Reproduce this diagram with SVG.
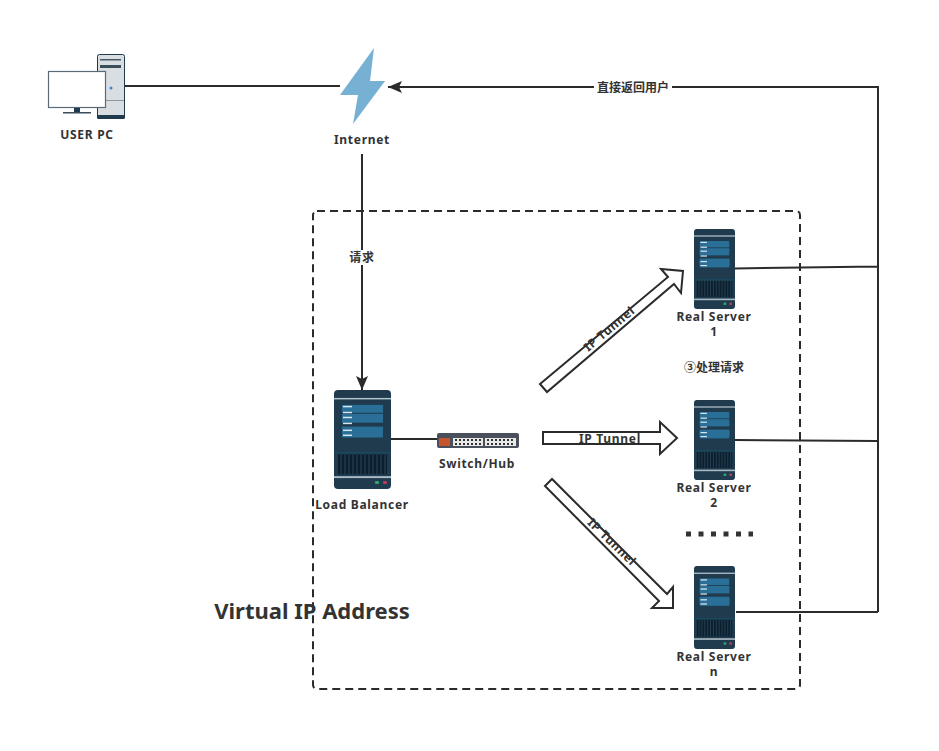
<svg xmlns="http://www.w3.org/2000/svg" xmlns:xlink="http://www.w3.org/1999/xlink" width="939" height="751" viewBox="0 0 939 751">
<style>
text{font-family:"Noto Sans","Noto Sans CJK SC",sans-serif;font-weight:700;fill:#333;text-anchor:middle;font-size:12px;letter-spacing:.7px}
.c{fill:none;stroke:#2b2b2b;stroke-width:2}
.t{fill:#fff;stroke:#2b2b2b;stroke-width:2}
</style>
<defs>
<marker id="a" markerUnits="userSpaceOnUse" markerWidth="16" markerHeight="14" refX="14" refY="7" orient="auto"><path d="M0 1 L14 7 L0 13 L3 7Z" fill="#2b2b2b"/></marker>
<symbol id="srv" viewBox="0 0 57 100" preserveAspectRatio="none">
<rect width="57" height="100" rx="4" fill="#1f3b4d"/>
<rect y="8" width="57" height="1.5" fill="#b6c6cf"/>
<g fill="#2a6f97"><rect x="8" y="15" width="41" height="8"/><rect x="8" y="24" width="41" height="8"/><rect x="8" y="26" width="41" height="0"/><rect x="8" y="26" width="0" height="0"/><rect x="8" y="26" width="41" height="0"/><rect x="8" y="26" width="41" height="7"/><rect x="8" y="37" width="41" height="8"/><rect x="8" y="38" width="41" height="7"/><rect x="8" y="46" width="41" height="0"/><rect x="8" y="39" width="41" height="0"/><rect x="8" y="39" width="41" height="0"/><rect x="8" y="39" width="41" height="0"/><rect x="8" y="39" width="41" height="0"/><rect x="8" y="39" width="41" height="0"/></g>
<g fill="#2a6f97"><rect x="8" y="39" width="41" height="8"/><rect x="8" y="49" width="41" height="0"/></g>
<g fill="#d9e6ee"><rect x="9" y="16" width="9" height="1.5"/><rect x="9" y="22" width="9" height="1.5"/><rect x="9" y="27" width="9" height="1.5"/><rect x="9" y="33" width="9" height="1.5"/></g>
<g fill="#2a6f97"><rect x="8" y="39" width="41" height="4"/><rect x="8" y="44" width="41" height="4"/></g>
<g fill="#d9e6ee"><rect x="9" y="40" width="9" height="1.5"/><rect x="9" y="45" width="9" height="1.5"/></g>
<rect y="63" width="57" height="1" fill="#17506b"/>
<rect x="4" y="65" width="49" height="20" fill="#0c1f2e"/>
<path d="M7 65v20M11 65v20M15 65v20M19 65v20M23 65v20M27 65v20M31 65v20M35 65v20M39 65v20M43 65v20M47 65v20M51 65v20" stroke="#2a4a5e" stroke-width="1"/>
<rect y="87" width="57" height="2" fill="#a9bac4"/>
<rect x="41" y="92" width="4" height="3" rx="1" fill="#2ca66f"/><rect x="49" y="92" width="4" height="3" rx="1" fill="#b83a5a"/>
</symbol>
</defs>
<g id="connectors">
<path class="c" d="M125 86H340"/>
<path class="c" d="M362 154V390" marker-end="url(#a)"/>
<path class="c" d="M735 268.500L878 266.500M735 440L878 441M736 612H878M878 612V87H388" marker-end="url(#a)"/>
<path class="c" d="M391 439H437"/>
<rect x="348" y="250" width="29" height="15" fill="#fff"/>
<text x="362" y="262">请求</text>
<rect x="594" y="80" width="78" height="15" fill="#fff"/>
<text x="633" y="92" style="letter-spacing:0">直接返回用户</text>
</g>
<rect id="vip" x="313" y="211" width="487" height="478" rx="4" fill="none" stroke="#2b2b2b" stroke-width="2" stroke-dasharray="8 5"/>
<text x="312" y="619" style="font-size:22px;letter-spacing:0">Virtual IP Address</text>
<g id="user-pc">
<rect x="97.500" y="54.500" width="27" height="64" rx="2" fill="#d9dee2" stroke="#1f3b4d"/>
<rect x="97" y="115" width="28" height="4" rx="1.500" fill="#1f3b4d"/>
<rect x="100" y="59" width="21" height="1.500" fill="#4a5a66"/><rect x="100" y="65" width="21" height="3" fill="#3c4d5a"/>
<rect x="98" y="100" width="26" height="1" fill="#8b98a2"/>
<circle cx="111" cy="88" r="1.500" fill="#3f7fe0"/>
<rect x="48.500" y="71.500" width="57" height="36" fill="#fff" stroke="#5a6a76" stroke-width="1.200"/>
<rect x="74" y="108" width="6" height="5" fill="#1f3b4d"/><rect x="63" y="112" width="28" height="1.500" fill="#3c4d5a"/>
<text x="87" y="139">USER PC</text>
</g>
<g id="internet">
<path d="M374 48L370 81H385L353 124L358 95H340Z" fill="#76b0d3"/>
<text x="362" y="144">Internet</text>
</g>
<g id="load-balancer"><use xlink:href="#srv" href="#srv" x="334" y="390" width="57" height="99"/><text x="362" y="509">Load Balancer</text></g>
<g id="switch">
<rect x="437" y="433" width="82" height="15" rx="2" fill="#4a4f5c"/>
<rect x="439" y="438" width="11" height="8" fill="#c5532c"/>
<rect x="453" y="438" width="30" height="8" fill="#e8e8e8"/><rect x="485" y="438" width="31" height="8" fill="#e8e8e8"/>
<path d="M455 440H482M455 444H482M487 440H515M487 444H515" stroke="#333" stroke-width="2" stroke-dasharray="2 2"/>
<text x="477" y="468">Switch/Hub</text>
</g>
<g id="rs1"><use xlink:href="#srv" href="#srv" x="694" y="229" width="41" height="80"/><text x="714" y="321">Real Server</text><text x="714" y="336">1</text></g>
<g id="rs2"><use xlink:href="#srv" href="#srv" x="694" y="400" width="41" height="80"/><text x="714" y="492">Real Server</text><text x="714" y="507">2</text></g>
<g id="rsn"><use xlink:href="#srv" href="#srv" x="694" y="566" width="41" height="83"/><text x="714" y="661">Real Server</text><text x="714" y="676">n</text></g>
<text x="714" y="372" style="letter-spacing:0">③处理请求</text>
<path d="M686 534H753" stroke="#333" stroke-width="5" stroke-dasharray="5 7.500" fill="none"/>
<g id="tunnels">
<polygon class="t" points="540,384 668,277 661,269 683,271 681,293 674,284 547,392"/>
<text transform="translate(612,332) rotate(-40)">IP Tunnel</text>
<polygon class="t" points="543,432 660,432 660,422 677,438 660,454 660,444 543,444"/>
<text x="610" y="443">IP Tunnel</text>
<polygon class="t" points="545,486 552,479 667,594 673,587 673,608 652,608 659,601"/>
<text transform="translate(609,545) rotate(44)">IP Tunnel</text>
</g>
</svg>
